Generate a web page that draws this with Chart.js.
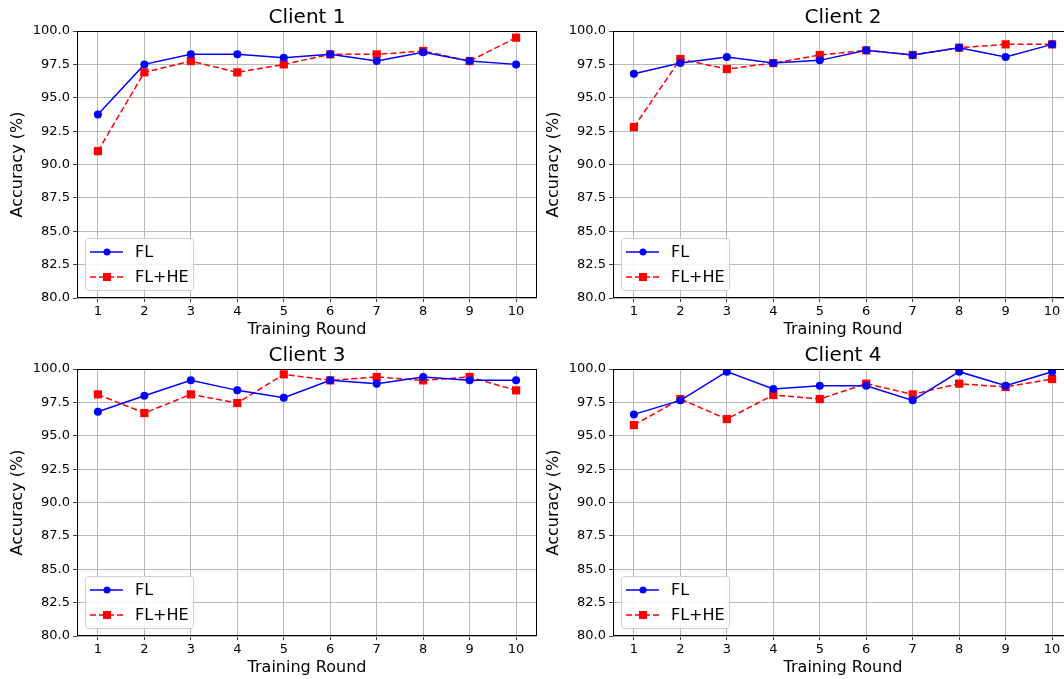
<!DOCTYPE html>
<html>
<head>
<meta charset="utf-8">
<script src="https://cdn.jsdelivr.net/npm/chart.js@4"></script>
<style>
  html, body { margin: 0; padding: 0; background: #fff; overflow: hidden; }
  body { width: 1064px; height: 679px; position: relative; }
  .panel { position: absolute; width: 545px; height: 340px; }
  #p1 { left: 0; top: 0; }
  #p2 { left: 536px; top: 0; }
  #p3 { left: 0; top: 338px; }
  #p4 { left: 536px; top: 338px; }
</style>
</head>
<body>
<div class="panel" id="p1"><canvas id="c1" width="545" height="340"></canvas></div>
<div class="panel" id="p2"><canvas id="c2" width="545" height="340"></canvas></div>
<div class="panel" id="p3"><canvas id="c3" width="545" height="340"></canvas></div>
<div class="panel" id="p4"><canvas id="c4" width="545" height="340"></canvas></div>
<script>
// Data
const rounds = [1, 2, 3, 4, 5, 6, 7, 8, 9, 10];
const yTicks = [80, 82.5, 85, 87.5, 90, 92.5, 95, 97.5, 100];
const seriesNames = ["FL", "FL+HE"];
const clientTitles = ["Client 1", "Client 2", "Client 3", "Client 4"];

const client1FL = [93.75, 97.5, 98.25, 98.25, 98.0, 98.25, 97.75, 98.4, 97.75, 97.5];
const client1FLHE = [91.0, 96.9, 97.75, 96.9, 97.5, 98.25, 98.25, 98.5, 97.75, 99.5];
const client2FL = [96.8, 97.6, 98.05, 97.6, 97.8, 98.55, 98.2, 98.75, 98.05, 99.0];
const client2FLHE = [92.8, 97.9, 97.15, 97.6, 98.2, 98.55, 98.2, 98.75, 99.0, 99.0];
const client3FL = [96.8, 98.0, 99.15, 98.4, 97.85, 99.15, 98.9, 99.4, 99.15, 99.15];
const client3FLHE = [98.1, 96.7, 98.1, 97.45, 99.6, 99.15, 99.4, 99.15, 99.4, 98.4];
const client4FL = [96.6, 97.65, 99.8, 98.5, 98.75, 98.75, 97.65, 99.8, 98.75, 99.8];
const client4FLHE = [95.8, 97.75, 96.25, 98.05, 97.75, 98.9, 98.1, 98.9, 98.65, 99.25];

const FONT = "'DejaVu Sans', sans-serif";
const BLUE = "#0000ff";
const RED = "#ff0000";

const toPoints = (values) => values.map((v, i) => ({ x: rounds[i], y: v }));

// black frame round the plot area, like matplotlib spines
const spinesPlugin = {
    id: "spines",
    afterDatasetsDraw(chart) {
        const { ctx, chartArea: a } = chart;
        ctx.save();
        ctx.strokeStyle = "#000";
        ctx.lineWidth = 1;
        ctx.strokeRect(Math.round(a.left) + 0.5, Math.round(a.top) + 0.5,
            Math.round(a.right - a.left) - 1, Math.round(a.bottom - a.top) - 1);
        ctx.restore();
    },
};

// title centred over the plot area (not over the whole canvas)
const areaTitlePlugin = {
    id: "areaTitle",
    afterDraw(chart, args, opts) {
        const { ctx, chartArea: a } = chart;
        ctx.save();
        ctx.fillStyle = "#000";
        ctx.font = `20px ${FONT}`;
        ctx.textAlign = "center";
        ctx.textBaseline = "middle";
        ctx.fillText(opts.text, (a.left + a.right) / 2, a.top - 13);
        ctx.restore();
    },
};

// legend box in the lower left corner of the plot
const cornerLegendPlugin = {
    id: "cornerLegend",
    afterDraw(chart) {
        const { ctx, chartArea: a } = chart;
        const w = 108, h = 52;
        const x = a.left + 8, y = a.bottom - 8 - h;
        ctx.save();
        ctx.fillStyle = "rgba(255,255,255,0.85)";
        ctx.strokeStyle = "#d0d0d0";
        ctx.lineWidth = 1;
        ctx.beginPath();
        ctx.roundRect(x + 0.5, y + 0.5, w, h, 3);
        ctx.fill();
        ctx.stroke();

        chart.data.datasets.forEach((ds, i) => {
            const rowY = y + 14 + i * 25;
            ctx.strokeStyle = ds.borderColor;
            ctx.lineWidth = ds.borderWidth;
            ctx.setLineDash(ds.borderDash || []);
            ctx.beginPath();
            ctx.moveTo(x + 5, rowY);
            ctx.lineTo(x + 38, rowY);
            ctx.stroke();
            ctx.setLineDash([]);
            ctx.fillStyle = ds.borderColor;
            if (ds.pointStyle === "rect") {
                ctx.fillRect(x + 22 - 4, rowY - 4, 8, 8);
            } else {
                ctx.beginPath();
                ctx.arc(x + 22, rowY, 3.5, 0, Math.PI * 2);
                ctx.fill();
            }
            ctx.fillStyle = "#000";
            ctx.font = `16px ${FONT}`;
            ctx.textBaseline = "middle";
            ctx.fillText(ds.label, x + 50, rowY + 1);
        });
        ctx.restore();
    },
};

const renderClientChart = (canvasId, title, flValues, heValues) => {
    const ctx = document.getElementById(canvasId).getContext("2d");

    new Chart(ctx, {
        type: "line",
        data: {
            datasets: [
                {
                    label: seriesNames[0],
                    data: toPoints(flValues),
                    borderColor: BLUE,
                    backgroundColor: BLUE,
                    borderWidth: 1.5,
                    pointStyle: "circle",
                    pointRadius: 4,
                    pointBorderWidth: 0,
                    tension: 0,
                },
                {
                    label: seriesNames[1],
                    data: toPoints(heValues),
                    borderColor: RED,
                    backgroundColor: RED,
                    borderWidth: 1.5,
                    borderDash: [6, 3],
                    pointStyle: "rect",
                    pointRadius: 5.8,
                    pointBorderWidth: 0,
                    tension: 0,
                },
            ],
        },
        options: {
            responsive: false,
            animation: false,
            devicePixelRatio: 1,
            layout: { padding: { left: 0, right: 8, top: 31, bottom: 0 } },
            plugins: {
                legend: { display: false },
                tooltip: { enabled: false },
                title: { display: false },
                areaTitle: { text: title },
            },
            scales: {
                x: {
                    type: "linear",
                    min: 0.55,
                    max: 10.45,
                    afterBuildTicks: (scale) => {
                        scale.ticks = rounds.map(v => ({ value: v }));
                    },
                    afterFit: (scale) => { scale.height = 42; },
                    ticks: {
                        color: "#000",
                        font: { family: FONT, size: 13 },
                        padding: 2,
                        maxRotation: 0,
                        autoSkip: false,
                    },
                    grid: { color: "#b8b8b8", lineWidth: 1, tickLength: 4, tickColor: "#444" },
                    border: { display: false },
                    title: {
                        display: true,
                        text: "Training Round",
                        color: "#000",
                        font: { family: FONT, size: 16, lineHeight: 1.2 },
                        padding: { top: 0, bottom: 1 },
                    },
                },
                y: {
                    min: 80,
                    max: 100,
                    afterBuildTicks: (scale) => {
                        scale.ticks = yTicks.map(v => ({ value: v }));
                    },
                    afterFit: (scale) => { scale.width = 77; },
                    ticks: {
                        color: "#000",
                        font: { family: FONT, size: 13 },
                        padding: 3,
                        callback: (v) => Number(v).toFixed(1),
                    },
                    grid: { color: "#b8b8b8", lineWidth: 1, tickLength: 4, tickColor: "#444" },
                    border: { display: false },
                    title: {
                        display: true,
                        text: "Accuracy (%)",
                        color: "#000",
                        font: { family: FONT, size: 16, lineHeight: 1.2 },
                        padding: { top: 8, bottom: 4 },
                    },
                },
            },
        },
        plugins: [spinesPlugin, cornerLegendPlugin, areaTitlePlugin],
    });
};

const initializeCharts = () => {
    renderClientChart("c1", clientTitles[0], client1FL, client1FLHE);
    renderClientChart("c2", clientTitles[1], client2FL, client2FLHE);
    renderClientChart("c3", clientTitles[2], client3FL, client3FLHE);
    renderClientChart("c4", clientTitles[3], client4FL, client4FLHE);
};

document.addEventListener("DOMContentLoaded", initializeCharts);
</script>
</body>
</html>
